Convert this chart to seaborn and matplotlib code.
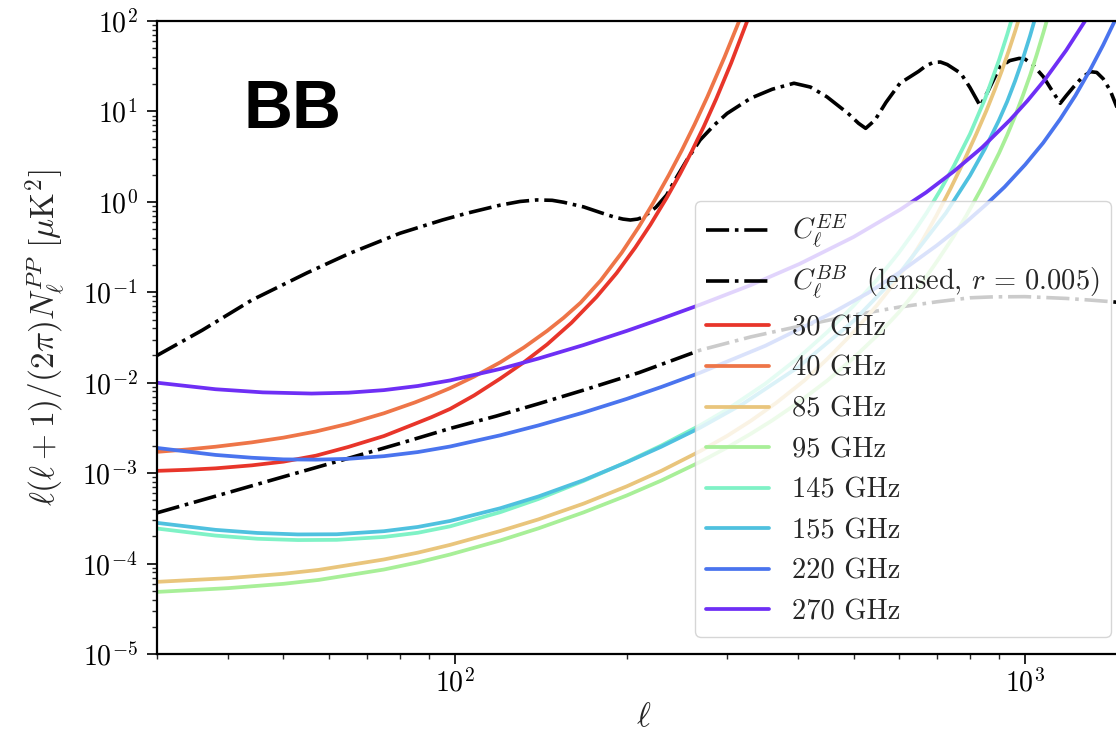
import numpy as np
import pandas as pd
import matplotlib
matplotlib.use("Agg")
import matplotlib.pyplot as plt
import matplotlib.ticker as mticker
import seaborn as sns

# ---------------- data ----------------
ell_ee = [30, 36, 44, 55, 65, 80, 95, 105, 120, 130, 139, 148, 155, 168, 180, 190, 197, 203, 209,
          214, 225, 235, 245, 255, 269, 285, 300, 330, 360, 393, 420, 449, 490, 510, 525, 545,
          570, 603, 650, 670, 690, 710, 730, 771, 800, 834, 860, 903, 940, 976, 1000, 1030, 1076,
          1110, 1152, 1180, 1216, 1260, 1302, 1335, 1370, 1410, 1447, 1530]
cl_ee = [0.020, 0.038, 0.082, 0.164, 0.266, 0.449, 0.63, 0.75, 0.92, 1.01, 1.05, 1.04, 0.99, 0.88,
         0.76, 0.68, 0.645, 0.63, 0.645, 0.68, 0.87, 1.19, 1.9, 2.9, 4.83, 7.1, 9.5, 14.0, 17.6,
         20.5, 18.6, 14.5, 9.4, 7.4, 6.5, 8.0, 12.6, 20.5, 27.7, 32.0, 34.8, 35.2, 33.0, 26.4,
         18.4, 11.5, 16.6, 31.2, 36.5, 38.6, 37.8, 33.0, 24.2, 17.7, 12.3, 14.9, 18.7, 24.0, 27.5,
         27.0, 23.0, 17.0, 11.3, 6.0]

ell_bb = [30, 40, 50, 65, 80, 98, 118, 140, 168, 210, 269, 330, 397, 500, 600, 700, 800, 878,
          1000, 1181, 1300, 1422, 1530]
cl_bb = [0.000364, 0.00061, 0.000912, 0.00146, 0.00213, 0.00312, 0.00427, 0.00585, 0.00828,
         0.0129, 0.0229, 0.0321, 0.0415, 0.056, 0.0684, 0.0785, 0.0869, 0.089, 0.0895, 0.0855,
         0.082, 0.0785, 0.075]

ell_30 = [30, 34, 38, 44, 50, 57, 65, 75, 85, 91, 98, 108, 120, 132, 145, 160, 177, 192, 207,
          220, 235, 248, 260, 273, 287, 305, 325, 345]
n_30 = [0.00106, 0.00109, 0.00113, 0.00122, 0.00134, 0.00156, 0.00195, 0.00257, 0.00351,
        0.00417, 0.00513, 0.00724, 0.0111, 0.0168, 0.0265, 0.046, 0.0887, 0.163, 0.312, 0.557,
        1.107, 2.03, 3.6, 6.79, 13.7, 34.4, 98, 284]

ell_40 = [30, 34, 38, 44, 50, 57, 65, 75, 85, 91, 98, 108, 120, 132, 145, 155, 166, 180, 196,
          210, 223, 237, 250, 263, 277, 297, 318, 335]
n_40 = [0.00172, 0.00183, 0.00196, 0.00219, 0.00247, 0.00289, 0.00352, 0.00459, 0.00605,
        0.00716, 0.00871, 0.0117, 0.0168, 0.0245, 0.0374, 0.0522, 0.0767, 0.135, 0.274, 0.528,
        0.993, 1.97, 3.74, 7.16, 14.5, 40.1, 116, 275]

ell_85 = [30, 40, 50, 57.6, 75, 86, 98, 120, 140, 168, 200, 230, 269, 300, 330, 366, 410, 450,
          500, 550, 590, 625, 660, 699, 740, 780, 820, 855, 885, 910, 935, 960, 990, 1020]
n_85 = [6.28e-5, 6.9e-5, 7.71e-5, 8.51e-5, 1.11e-4, 1.32e-4, 1.61e-4, 2.29e-4, 3.08e-4, 4.6e-4,
        7.14e-4, 1.06e-3, 1.75e-3, 2.58e-3, 3.78e-3, 6.0e-3, 0.0106, 0.0184, 0.0363, 0.0724,
        0.127, 0.214, 0.372, 0.708, 1.41, 2.79, 5.56, 10.2, 17.6, 28.2, 46.2, 76.7, 145, 275]

ell_95 = [30, 40, 50, 57.6, 75, 86, 98, 120, 140, 168, 200, 230, 269, 300, 330, 360, 397, 450,
          500, 550, 600, 650, 700, 745, 788, 840, 900, 930, 961, 990, 1020, 1048, 1076, 1100, 1130]
n_95 = [4.86e-5, 5.35e-5, 5.97e-5, 6.59e-5, 8.59e-5, 1.03e-4, 1.26e-4, 1.8e-4, 2.45e-4, 3.68e-4,
        5.66e-4, 8.28e-4, 1.33e-3, 1.92e-3, 2.72e-3, 3.83e-3, 5.83e-3, 0.0106, 0.0188, 0.0333,
        0.0598, 0.112, 0.219, 0.394, 0.70, 1.45, 3.47, 5.5, 9.02, 14.8, 25.1, 42.7, 74.1, 120, 224]

ell_145 = [30, 38, 45, 53, 62, 75, 86, 98, 120, 140, 168, 200, 230, 269, 300, 350, 400, 450,
           500, 550, 600, 640, 672, 710, 750, 800, 850, 900, 930, 960, 990]
n_145 = [2.44e-4, 2.04e-4, 1.88e-4, 1.82e-4, 1.83e-4, 1.97e-4, 2.19e-4, 2.58e-4, 3.7e-4,
         5.18e-4, 8.2e-4, 1.33e-3, 2.02e-3, 3.38e-3, 5.06e-3, 9.73e-3, 0.0188, 0.0365, 0.071,
         0.138, 0.273, 0.479, 0.76, 1.35, 2.51, 5.61, 13.7, 37.2, 71, 139, 281]

ell_155 = [30, 38, 45, 53, 62, 75, 86, 98, 120, 140, 168, 200, 230, 269, 320, 400, 500, 600,
           726, 800, 850, 899, 930, 960, 990, 1020, 1060]
n_155 = [2.82e-4, 2.36e-4, 2.18e-4, 2.1e-4, 2.11e-4, 2.28e-4, 2.54e-4, 2.96e-4, 4.09e-4,
         5.52e-4, 8.36e-4, 1.32e-3, 1.96e-3, 3.18e-3, 5.85e-3, 0.0149, 0.0482, 0.158, 0.753,
         1.95, 3.87, 7.93, 12.9, 21.7, 37.8, 68.7, 160]

ell_220 = [30, 38, 44, 50, 57, 65, 75, 86, 98, 120, 140, 168, 200, 230, 269, 350, 459, 530, 603,
           700, 780, 855, 920, 1000, 1075, 1152, 1225, 1302, 1370, 1441, 1530]
n_220 = [0.0019, 0.00159, 0.00148, 0.00142, 0.00141, 0.00144, 0.00154, 0.00171, 0.00197,
         0.00262, 0.00337, 0.00468, 0.00662, 0.00897, 0.0129, 0.0256, 0.0593, 0.0982, 0.167,
         0.33, 0.566, 0.942, 1.46, 2.58, 4.48, 8.24, 15.0, 29.4, 54.2, 105, 245]

ell_270 = [30, 38, 46, 56, 65, 75, 86, 98, 120, 140, 168, 200, 230, 269, 330, 402, 500, 603,
           670, 750, 840, 941, 1010, 1083, 1180, 1276, 1400]
n_270 = [0.0100, 0.00847, 0.00782, 0.00759, 0.00776, 0.00828, 0.0092, 0.0106, 0.0142, 0.0185,
         0.0261, 0.0374, 0.0509, 0.0729, 0.12, 0.206, 0.409, 0.818, 1.27, 2.18, 3.99, 8.07, 13.2,
         22.5, 47.4, 102, 280]

spectra_labels = [r"$C_\ell^{EE}$", r"$C_\ell^{BB}$  (lensed, $r\,=\,0.005$)"]
band_labels = ["30 GHz", "40 GHz", "85 GHz", "95 GHz", "145 GHz", "155 GHz", "220 GHz", "270 GHz"]
band_colors = ["#e8352a", "#ee7548", "#e9c57c", "#a8ef98", "#7ff2c6", "#4fc1df", "#4a74ee", "#6e2ff5"]

# ---------------- style ----------------
sns.set_style("ticks")
plt.rcParams.update({
    "font.family": "serif",
    "font.serif": ["cmr10"],
    "mathtext.fontset": "cm",
    "axes.formatter.use_mathtext": True,
    "axes.unicode_minus": True,
})

fig = plt.figure(figsize=(11.16, 7.43), dpi=100)
ax = fig.add_axes([157 / 1116, (743 - 654) / 743, 973 / 1116, 633 / 743])

spectra = [(ell_ee, cl_ee), (ell_bb, cl_bb)]
for (l, c), lab in zip(spectra, spectra_labels):
    df = pd.DataFrame({"ell": l, "val": c})
    sns.lineplot(data=df, x="ell", y="val", ax=ax, color="black", linestyle="-.",
                 linewidth=2.6, label=lab, estimator=None, sort=False)

bands = [(ell_30, n_30), (ell_40, n_40), (ell_85, n_85), (ell_95, n_95),
         (ell_145, n_145), (ell_155, n_155), (ell_220, n_220), (ell_270, n_270)]
for (l, n), lab, col in zip(bands, band_labels, band_colors):
    df = pd.DataFrame({"ell": l, "val": n})
    sns.lineplot(data=df, x="ell", y="val", ax=ax, color=col, linewidth=2.7,
                 label=lab, estimator=None, sort=False)

ax.set_xscale("log")
ax.set_yscale("log")
ax.set_xlim(30, 1527)
ax.set_ylim(1e-5, 1e2)
ax.yaxis.set_major_locator(mticker.LogLocator(base=10, numticks=20))
ax.yaxis.set_minor_locator(mticker.LogLocator(base=10, subs=np.arange(2, 10), numticks=50))
ax.xaxis.set_minor_formatter(mticker.NullFormatter())
ax.yaxis.set_minor_formatter(mticker.NullFormatter())

ax.tick_params(which="major", direction="out", length=7, width=1.2, labelsize=20, colors="black")
ax.tick_params(axis="y", which="major", pad=7)
ax.tick_params(which="minor", direction="out", length=3.5, width=1.0)
for sp in ax.spines.values():
    sp.set_linewidth(1.6)
    sp.set_color("black")

ax.set_xlabel(r"$\ell$", fontsize=24, labelpad=4)
ax.set_ylabel(r"$\ell(\ell+1)/(2\pi)N_\ell^{PP}\ [\mu\mathrm{K}^2]$", fontsize=24, labelpad=10)

ax.text(0.139, 0.859, "BB", transform=ax.transAxes, fontsize=49, fontweight="bold",
        family="Liberation Sans", ha="center", va="center", color="black")

leg = ax.legend(loc="lower right", bbox_to_anchor=((1110.7 - 157) / 973, (654 - 636.7) / 633),
                borderaxespad=0, fontsize=20.5, handlelength=2.2, framealpha=0.8,
                edgecolor="0.8", fancybox=True)

fig.savefig("out.png", dpi=100)
